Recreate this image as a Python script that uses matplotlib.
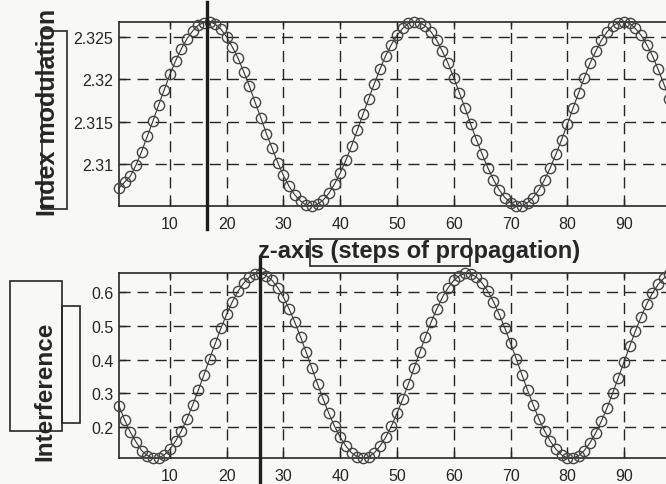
import numpy as np
import matplotlib
matplotlib.use('Agg')
import matplotlib.pyplot as plt
from matplotlib.patches import Rectangle

plt.rcParams['font.family'] = ['Liberation Sans', 'DejaVu Sans']

# step index along z (one sample per propagation step)
steps = np.arange(1, 101)

index_modulation = [
    2.3072, 2.3079, 2.3086, 2.3099, 2.3115, 2.3133, 2.3151, 2.3170, 2.3188, 2.3206,
    2.3222, 2.3236, 2.3248, 2.3257, 2.3264, 2.3267, 2.3268, 2.3265, 2.3259, 2.3250,
    2.3238, 2.3225, 2.3209, 2.3192, 2.3173, 2.3155, 2.3136, 2.3119, 2.3102, 2.3087,
    2.3074, 2.3064, 2.3057, 2.3052, 2.3051, 2.3053, 2.3058, 2.3066, 2.3077, 2.3090,
    2.3105, 2.3122, 2.3140, 2.3159, 2.3177, 2.3195, 2.3212, 2.3228, 2.3241, 2.3252,
    2.3260, 2.3266, 2.3268, 2.3267, 2.3263, 2.3256, 2.3246, 2.3233, 2.3219, 2.3202,
    2.3184, 2.3166, 2.3147, 2.3129, 2.3112, 2.3096, 2.3082, 2.3070, 2.3061, 2.3055,
    2.3051, 2.3051, 2.3055, 2.3061, 2.3070, 2.3082, 2.3096, 2.3112, 2.3129, 2.3147,
    2.3166, 2.3184, 2.3202, 2.3219, 2.3233, 2.3246, 2.3256, 2.3263, 2.3267, 2.3268,
    2.3266, 2.3260, 2.3252, 2.3241, 2.3228, 2.3212, 2.3195, 2.3177, 2.3159, 2.3140]

interference = [
    0.264, 0.222, 0.186, 0.157, 0.131, 0.116, 0.109, 0.109, 0.118, 0.135,
    0.159, 0.189, 0.225, 0.266, 0.310, 0.356, 0.403, 0.449, 0.494, 0.535,
    0.572, 0.603, 0.627, 0.645, 0.654, 0.656, 0.649, 0.635, 0.613, 0.585,
    0.550, 0.511, 0.468, 0.422, 0.375, 0.328, 0.283, 0.241, 0.203, 0.170,
    0.144, 0.124, 0.112, 0.108, 0.112, 0.124, 0.144, 0.170, 0.203, 0.241,
    0.283, 0.328, 0.375, 0.422, 0.468, 0.511, 0.550, 0.585, 0.613, 0.635,
    0.649, 0.656, 0.654, 0.645, 0.627, 0.603, 0.572, 0.535, 0.494, 0.449,
    0.403, 0.356, 0.310, 0.266, 0.225, 0.189, 0.159, 0.135, 0.118, 0.109,
    0.109, 0.116, 0.131, 0.154, 0.183, 0.218, 0.257, 0.301, 0.347, 0.394,
    0.440, 0.485, 0.527, 0.565, 0.597, 0.623, 0.641, 0.653, 0.656, 0.651]

# z positions of the thick marker lines
index_marker_z = 16.5
interference_marker_z = 25.9

x_ticks = [10, 20, 30, 40, 50, 60, 70, 80, 90]
index_ticks = [2.31, 2.315, 2.32, 2.325]
index_tick_labels = ['2.31', '2.315', '2.32', '2.325']
interf_ticks = [0.2, 0.3, 0.4, 0.5, 0.6]
interf_tick_labels = ['0.2', '0.3', '0.4', '0.5', '0.6']

ink = '#262626'

fig = plt.figure(figsize=(6.66, 4.85), dpi=100, facecolor='#f8f8f6')

ax1 = fig.add_axes([0.1785, 0.5732, 0.8437, 0.380])
ax2 = fig.add_axes([0.1785, 0.0530, 0.8437, 0.3814])


def style(ax, y, ticks, labels, marker_z, ymin, ymax):
    ax.set_facecolor('none')
    ax.plot(steps, y, '-o', color='#333333', lw=0.8, ms=7.4, mfc='none',
            mec='#444444', mew=1.0, clip_on=False, zorder=3)
    ax.set_xlim(1, 100)
    ax.set_ylim(min(y), max(y))
    ax.set_xticks(x_ticks)
    ax.set_xticklabels([str(t) for t in x_ticks])
    ax.set_yticks(ticks)
    ax.set_yticklabels(labels)
    ax.grid(True, color=ink, linestyle=(0, (8, 5)), linewidth=1.0)
    ax.tick_params(direction='in', length=5, width=1.0, colors=ink,
                   labelsize=11.5, top=True, right=True)
    ax.tick_params(axis='x', pad=7)
    ax.tick_params(axis='y', pad=4)
    for s in ax.spines.values():
        s.set_color(ink)
        s.set_linewidth(1.2)
    ax.axvline(marker_z, ymin=ymin, ymax=ymax, color='#1e1e1e', lw=2.4,
               clip_on=False, zorder=5)


style(ax1, index_modulation, index_ticks, index_tick_labels, index_marker_z, -0.125, 1.107)
style(ax2, interference, interf_ticks, interf_tick_labels, interference_marker_z, -0.14, 1.088)

fig.text(0.072, 0.768, 'Index modulation', rotation=90, ha='center', va='center',
         fontsize=18, fontweight='bold', color=ink)
fig.text(0.0676, 0.193, 'Interference', rotation=90, ha='center', va='center',
         fontsize=17.5, fontweight='bold', color=ink)
fig.text(0.629, 0.468, 'z-axis (steps of propagation)', ha='center', va='baseline',
         fontsize=17, fontweight='bold', color=ink)

# annotation boxes left on the printed figure
for (x0, y0, w, h) in [(0.0631, 0.567, 0.0375, 0.367),
                       (0.015, 0.1093, 0.078, 0.309),
                       (0.0931, 0.1258, 0.027, 0.241),
                       (0.4655, 0.4495, 0.240, 0.0557)]:
    fig.patches.append(Rectangle((x0, y0), w, h, transform=fig.transFigure,
                                 fill=False, edgecolor=ink, linewidth=1.2))

fig.savefig('out.png', dpi=100, facecolor=fig.get_facecolor())
